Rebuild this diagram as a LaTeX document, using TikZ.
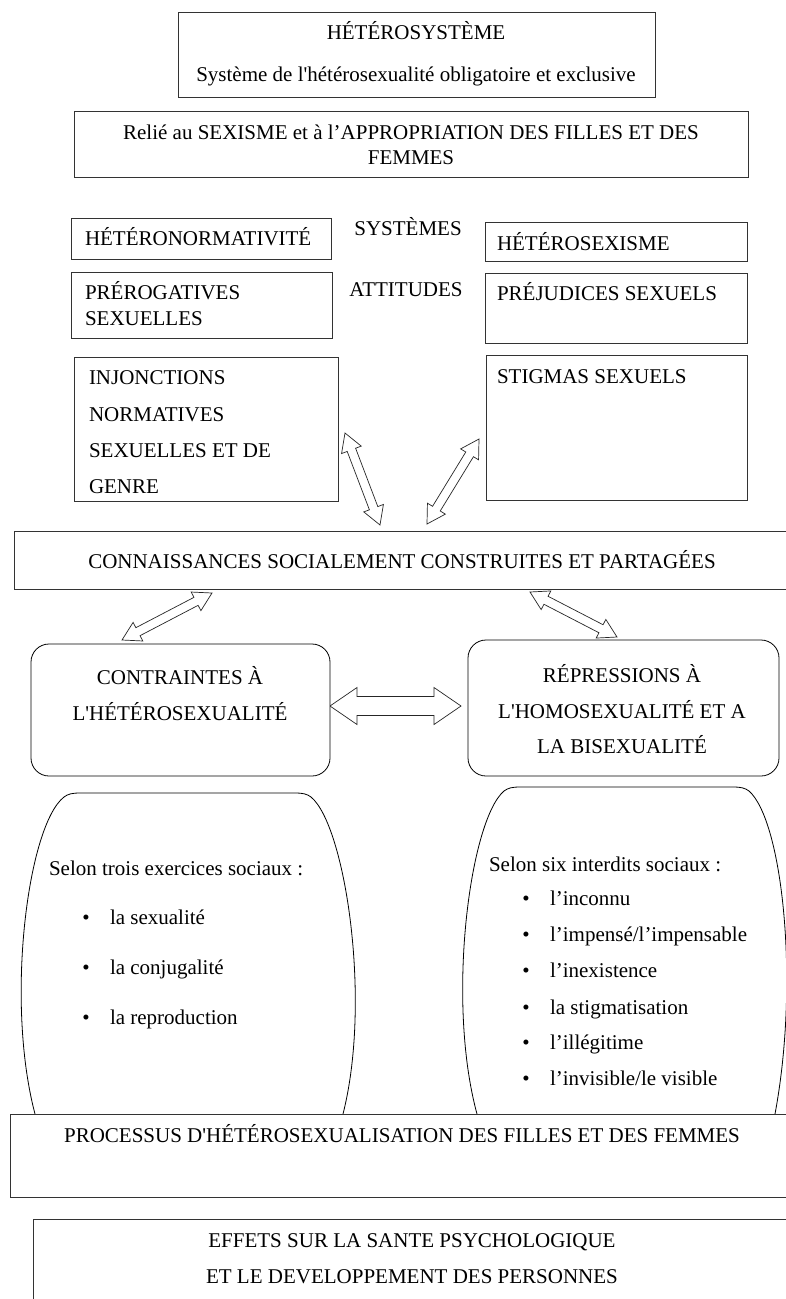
\documentclass[tikz,border=0pt]{standalone}
\usepackage{fontspec}
\newfontfamily\lib{Liberation Serif}
\usetikzlibrary{calc}
\tikzset{
  box/.style={draw=black!80, line width=0.8pt, inner sep=0pt, outer sep=0pt, fill=white},
  rbox/.style={draw=black, rounded corners=18pt},
  txt/.style={inner sep=0pt, outer sep=0pt, font=\lib\fontsize{21}{24}\selectfont, text=black},
  arrowbox/.style={draw=black!85, line width=0.7pt, fill=white, line join=miter},
  oval/.style={draw=black, line width=0.8pt},
}
% #1 options, #2 x1, #3 y1, #4 x2, #5 y2, #6 name
\newcommand\mkbox[6][]{%
  \node[box,#1,minimum width={(#4-#2)*1pt},minimum height={(#5-#3)*1pt}] (#6) at ({(#2+#4)/2},{(#3+#5)/2}) {};}
% #1 start, #2 end, #3 shaft half width, #4 head half width, #5 head length
\newcommand\dblarrow[5]{%
  \draw[arrowbox] (#1)
   -- ($($(#1)!#5!(#2)$)!#4!90:(#2)$)
   -- ($($(#1)!#5!(#2)$)!#3!90:(#2)$)
   -- ($($(#2)!#5!(#1)$)!#3!90:(#2)$)
   -- ($($(#2)!#5!(#1)$)!#4!90:(#2)$)
   -- (#2)
   -- ($($(#2)!#5!(#1)$)!#4!-90:(#2)$)
   -- ($($(#2)!#5!(#1)$)!#3!-90:(#2)$)
   -- ($($(#1)!#5!(#2)$)!#3!-90:(#2)$)
   -- ($($(#1)!#5!(#2)$)!#4!-90:(#2)$)
   -- cycle;}
\begin{document}
\begin{tikzpicture}[x=1pt,y=-1pt]
\useasboundingbox (0,0) rectangle (786,1299);
\fill[white] (0,0) rectangle (786,1299);
\clip (0,0) rectangle (786,1299);

% top boxes
\mkbox{178}{12}{655}{97}{b1}
\node[txt,anchor=base] (b1a) at (416,39) {HÉTÉROSYSTÈME};
\node[txt,anchor=base] (b1b) at (416,81) {Système de l'hétérosexualité obligatoire et exclusive};
\mkbox{74}{111}{748}{177}{b2}
\node[txt,anchor=base] (b2a) at (411,139) {Relié au SEXISME et à l’APPROPRIATION DES FILLES ET DES};
\node[txt,anchor=base] (b2b) at (411,164) {FEMMES};

% systems row
\mkbox{71}{218}{331}{259}{hn}
\node[txt,anchor=base west] (hnt) at (85,245) {HÉTÉRONORMATIVITÉ};
\node[txt,anchor=base] (sys) at (408,235) {SYSTÈMES};
\mkbox{485}{222}{747}{261}{hs}
\node[txt,anchor=base west] (hst) at (497,250) {HÉTÉROSEXISME};

% attitudes row
\mkbox{71}{272}{332}{338}{pr}
\node[txt,anchor=base west] (pra) at (85,299) {PRÉROGATIVES};
\node[txt,anchor=base west] (prb) at (85,325) {SEXUELLES};
\node[txt,anchor=base] (att) at (406,296) {ATTITUDES};
\mkbox{485}{273}{747}{343}{pj}
\node[txt,anchor=base west] (pjt) at (497,300) {PRÉJUDICES SEXUELS};

% third row
\mkbox{74}{357}{338}{501}{inj}
\node[txt,anchor=base west] (inja) at (89,384) {INJONCTIONS};
\node[txt,anchor=base west] (injb) at (89,421) {NORMATIVES};
\node[txt,anchor=base west] (injc) at (89,457) {SEXUELLES ET DE};
\node[txt,anchor=base west] (injd) at (89,493) {GENRE};
\mkbox{486}{355}{747}{500}{stg}
\node[txt,anchor=base west] (stgt) at (497,383) {STIGMAS SEXUELS};

% connaissances
\mkbox{14}{531}{795}{589}{con}
\node[txt,anchor=base] (cont) at (402,568) {CONNAISSANCES SOCIALEMENT CONSTRUITES ET PARTAGÉES};

% arrows (end points)
\coordinate (a1s) at (345,433);  \coordinate (a1e) at (380,525);
\coordinate (a2s) at (479,439);  \coordinate (a2e) at (427,524);
\coordinate (a3s) at (212,593);  \coordinate (a3e) at (122,640);
\coordinate (a4s) at (530,592);  \coordinate (a4e) at (617,637);
\coordinate (a5s) at (330,706);  \coordinate (a5e) at (461,706);
\dblarrow{a1s}{a1e}{4.5pt}{10.5pt}{18pt}
\dblarrow{a2s}{a2e}{4.5pt}{10.5pt}{18pt}
\dblarrow{a3s}{a3e}{4.5pt}{10.5pt}{18pt}
\dblarrow{a4s}{a4e}{4.5pt}{10.5pt}{18pt}
\dblarrow{a5s}{a5e}{9.5pt}{18.5pt}{27pt}

% rounded boxes
\mkbox[rbox]{31}{644}{330}{776}{ctr}
\node[txt,anchor=base] (ctra) at (180,684) {CONTRAINTES À};
\node[txt,anchor=base] (ctrb) at (180,720) {L'HÉTÉROSEXUALITÉ};
\mkbox[rbox]{468}{640}{779}{776}{rep}
\node[txt,anchor=base] (repa) at (622,682) {RÉPRESSIONS À};
\node[txt,anchor=base] (repb) at (622,718) {L'HOMOSEXUALITÉ ET A};
\node[txt,anchor=base] (repc) at (622,753) {LA BISEXUALITÉ};

% ovals
\draw[oval] (35,1114) .. controls (5,1000) and (28,825) .. (64,797)
  .. controls (68,794) and (72,793) .. (80,793) -- (295,793)
  .. controls (303,793) and (307,794) .. (311,797)
  .. controls (345,825) and (372,1000) .. (343,1114);
\draw[oval] (477,1114) .. controls (446,1000) and (470,820) .. (504,791)
  .. controls (508,788) and (512,787) .. (520,787) -- (733,787)
  .. controls (741,787) and (745,788) .. (749,791)
  .. controls (782,820) and (800,980) .. (775,1114);

% left oval text
\node[txt,anchor=base west] (lsel) at (49,875) {Selon trois exercices sociaux :};
\node[txt,anchor=base] (lb1) at (86,924) {•};
\node[txt,anchor=base west] (li1) at (110,924) {la sexualité};
\node[txt,anchor=base] (lb2) at (86,974) {•};
\node[txt,anchor=base west] (li2) at (110,974) {la conjugalité};
\node[txt,anchor=base] (lb3) at (86,1024) {•};
\node[txt,anchor=base west] (li3) at (110,1024) {la reproduction};

% right oval text
\node[txt,anchor=base west] (rsel) at (489,871) {Selon six interdits sociaux :};
\node[txt,anchor=base] (rb1) at (526,905) {•};
\node[txt,anchor=base west] (ri1) at (550,905) {l’inconnu};
\node[txt,anchor=base] (rb2) at (526,941) {•};
\node[txt,anchor=base west] (ri2) at (550,941) {l’impensé/l’impensable};
\node[txt,anchor=base] (rb3) at (526,977) {•};
\node[txt,anchor=base west] (ri3) at (550,977) {l’inexistence};
\node[txt,anchor=base] (rb4) at (526,1014) {•};
\node[txt,anchor=base west] (ri4) at (550,1014) {la stigmatisation};
\node[txt,anchor=base] (rb5) at (526,1049) {•};
\node[txt,anchor=base west] (ri5) at (550,1049) {l’illégitime};
\node[txt,anchor=base] (rb6) at (526,1085) {•};
\node[txt,anchor=base west] (ri6) at (550,1085) {l’invisible/le visible};

% bottom boxes
\mkbox{10}{1114}{795}{1197}{proc}
\node[txt,anchor=base] (proct) at (402,1142) {PROCESSUS D'HÉTÉROSEXUALISATION DES FILLES ET DES FEMMES};
\mkbox{33}{1219}{795}{1320}{eff}
\node[txt,anchor=base] (effa) at (412,1247) {EFFETS SUR LA SANTE PSYCHOLOGIQUE};
\node[txt,anchor=base] (effb) at (412,1283) {ET LE DEVELOPPEMENT DES PERSONNES};
\end{tikzpicture}
\end{document}
